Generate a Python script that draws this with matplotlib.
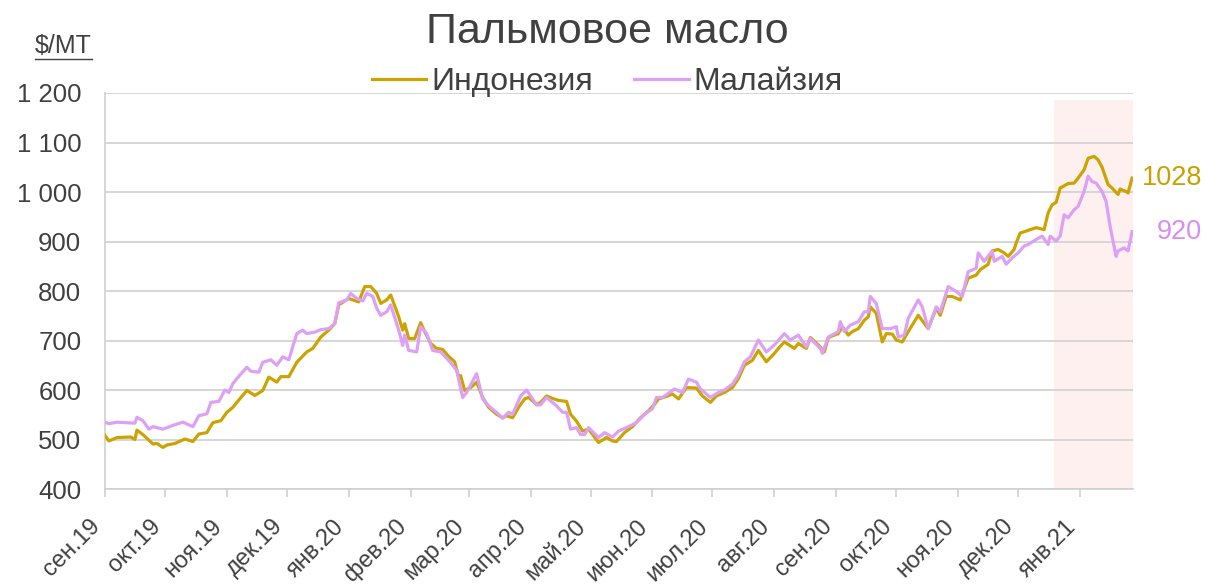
import numpy as np
import pandas as pd
import matplotlib
matplotlib.use("Agg")
from matplotlib import pyplot as plt
from matplotlib.lines import Line2D
from matplotlib.ticker import FuncFormatter

plt.rcParams['font.family'] = ['Liberation Sans', 'DejaVu Sans']

# Data: day offsets from start_date and prices, $/MT
start_date = pd.Timestamp('2019-09-01')
end_day = 514.5

days_ind = [0, 2, 6, 13, 15, 16, 19, 24, 26, 29, 31, 35, 40, 44, 47, 51, 54, 58, 61, 64,
            66, 71, 75, 79, 82, 86, 88, 92, 96, 101, 104, 108, 112, 115, 117, 122, 124, 127, 130, 133,
            136, 138, 141, 143, 147, 149, 150, 152, 155, 158, 160, 163, 166, 169, 172, 175, 177, 178, 180, 183,
            186, 189, 192, 196, 199, 201, 204, 207, 210, 212, 216, 218, 221, 224, 227, 231, 233, 236, 239, 242,
            247, 251, 254, 256, 260, 264, 268, 272, 275, 277, 281, 284, 287, 291, 296, 299, 303, 306, 310, 314,
            317, 320, 324, 327, 331, 335, 337, 340, 345, 347, 351, 353, 357, 360, 362, 367, 369, 372, 374, 377,
            380, 382, 383, 386, 389, 391, 394, 396, 399, 402, 407, 412, 416, 418, 421, 424, 428, 432, 436, 438,
            442, 444, 447, 450, 452, 455, 456, 458, 461, 463, 466, 470, 472, 474, 476, 478, 482, 485, 487, 490,
            492, 495, 497, 499, 502, 504, 507, 508, 511, 512, 514]
indonesia = [508, 497, 504, 505, 500, 519, 510, 491, 492, 484, 489, 492, 501, 496, 511, 514, 534, 538, 555, 565,
             575, 599, 589, 599, 626, 616, 627, 627, 656, 677, 684, 707, 721, 734, 772, 785, 782, 778, 809, 809,
             795, 775, 782, 792, 748, 721, 734, 704, 704, 736, 718, 694, 684, 682, 668, 657, 626, 629, 599, 605,
             616, 585, 565, 551, 544, 548, 544, 565, 582, 585, 571, 575, 588, 583, 579, 577, 551, 537, 517, 521,
             494, 504, 497, 496, 514, 526, 544, 558, 571, 582, 587, 592, 582, 605, 604, 588, 575, 588, 595, 605,
             623, 650, 660, 680, 657, 674, 684, 697, 684, 694, 684, 706, 691, 677, 706, 714, 728, 711, 718, 724,
             741, 748, 768, 755, 697, 714, 713, 701, 697, 718, 751, 724, 765, 751, 789, 789, 782, 826, 832, 843,
             854, 881, 884, 877, 870, 884, 897, 917, 921, 924, 928, 924, 958, 974, 979, 1008, 1017, 1018, 1028, 1045,
             1068, 1072, 1065, 1050, 1015, 1008, 995, 1006, 1001, 998, 1028]

days_mal = [0, 2, 6, 15, 16, 19, 22, 24, 29, 31, 35, 39, 44, 47, 51, 53, 57, 60, 62, 64,
            66, 71, 73, 77, 79, 83, 86, 89, 92, 96, 99, 101, 105, 108, 112, 115, 117, 121, 123, 126,
            129, 131, 134, 136, 138, 141, 143, 147, 149, 150, 152, 156, 158, 161, 164, 168, 172, 176, 179, 181,
            186, 189, 192, 197, 199, 202, 204, 208, 211, 216, 218, 221, 226, 229, 231, 233, 236, 238, 240, 242,
            247, 250, 254, 257, 261, 266, 270, 274, 276, 279, 285, 289, 292, 296, 298, 303, 307, 310, 314, 317,
            320, 323, 327, 331, 335, 340, 343, 347, 351, 353, 358, 359, 362, 367, 368, 370, 373, 377, 380, 382,
            383, 386, 389, 393, 396, 397, 400, 402, 407, 409, 412, 416, 418, 422, 426, 429, 432, 436, 437, 440,
            444, 445, 449, 451, 454, 457, 460, 462, 466, 469, 472, 473, 476, 478, 480, 482, 485, 487, 490, 492,
            494, 496, 499, 501, 503, 506, 507, 510, 512, 514]
malaysia = [535, 532, 535, 533, 545, 538, 521, 526, 521, 524, 530, 535, 526, 548, 552, 575, 577, 600, 595, 613,
            623, 646, 638, 636, 656, 661, 650, 667, 661, 714, 721, 714, 717, 722, 724, 734, 776, 782, 795, 785,
            780, 795, 789, 765, 751, 758, 772, 721, 690, 711, 680, 677, 728, 714, 680, 677, 660, 640, 585, 595,
            633, 582, 568, 551, 543, 555, 551, 588, 600, 570, 570, 585, 568, 555, 555, 521, 524, 510, 510, 524,
            504, 514, 505, 517, 524, 534, 551, 562, 585, 585, 602, 595, 622, 616, 602, 585, 595, 600, 612, 630,
            657, 667, 701, 677, 691, 714, 701, 711, 687, 704, 684, 674, 707, 718, 738, 718, 731, 738, 758, 758,
            789, 775, 724, 724, 728, 707, 711, 745, 782, 768, 724, 768, 758, 809, 799, 789, 839, 846, 877, 860,
            881, 860, 870, 854, 867, 877, 891, 894, 904, 911, 894, 911, 901, 911, 954, 948, 964, 971, 1001, 1032,
            1021, 1018, 1001, 981, 931, 870, 881, 887, 881, 920]

month_labels = ['сен.19', 'окт.19', 'ноя.19', 'дек.19', 'янв.20', 'фев.20', 'мар.20', 'апр.20', 'май.20',
                'июн.20', 'июл.20', 'авг.20', 'сен.20', 'окт.20', 'ноя.20', 'дек.20', 'янв.21']
y_ticks = [400, 500, 600, 700, 800, 900, 1000, 1100, 1200]
highlight = ('2020-12-19', '2021-01-27')

gold = '#CCA300'
lilac = '#DDA0F5'
text_col = '#404040'
grid_col = '#d0d0d0'

x_ind = start_date + pd.to_timedelta(days_ind, unit='D')
x_mal = start_date + pd.to_timedelta(days_mal, unit='D')
month_ticks = pd.date_range(start_date, periods=len(month_labels), freq='MS')

fig = plt.figure(figsize=(12.05, 5.86), dpi=100)
ax = fig.add_axes([0.0871, 0.1655, 0.8532, 0.6758])

ax.axvspan(pd.Timestamp(highlight[0]), pd.Timestamp(highlight[1]) + pd.Timedelta(hours=12),
           ymin=0, ymax=0.983, color='#FFF0F0', lw=0, zorder=0.3)

ax.plot(x_ind, indonesia, color=gold, lw=2.3, label='Индонезия', zorder=3)
ax.plot(x_mal, malaysia, color=lilac, lw=2.3, label='Малайзия', zorder=3)

ax.set_xlim(start_date, start_date + pd.Timedelta(days=end_day))
ax.set_ylim(400, 1200)
ax.set_yticks(y_ticks)
ax.yaxis.set_major_formatter(FuncFormatter(lambda v, p: f"{int(v):,}".replace(',', ' ')))
ax.set_xticks(month_ticks)
ax.set_xticklabels(month_labels, rotation=45, ha='right')

ax.set_axisbelow(True)
ax.grid(axis='y', color=grid_col, lw=1.2)
for s in ['top', 'right']:
    ax.spines[s].set_visible(False)
for s in ['left', 'bottom']:
    ax.spines[s].set_color(grid_col)
    ax.spines[s].set_linewidth(1.2)
ax.tick_params(axis='y', length=0, labelsize=18.5, labelcolor=text_col, pad=17)
ax.tick_params(axis='x', length=6, width=1.2, color=grid_col, labelsize=17, labelcolor=text_col, pad=13)

# end-of-series value labels
ax.text(1.067, indonesia[-1], str(indonesia[-1]), transform=ax.get_yaxis_transform(),
        ha='right', va='center', fontsize=19.5, color='#C8A000')
ax.text(1.067, malaysia[-1], str(malaysia[-1]), transform=ax.get_yaxis_transform(),
        ha='right', va='center', fontsize=19.5, color='#D98CF2')

fig.text(0.504, 0.945, 'Пальмовое масло', ha='center', va='center', fontsize=31, color=text_col)
fig.legend(loc='center', bbox_to_anchor=(0.504, 0.86), ncol=2, frameon=False, fontsize=23,
           handlelength=1.7, handletextpad=0.15, columnspacing=1.3, labelcolor=text_col)

unit = fig.text(35 / 1205, 1 - 53 / 586, '$/MT', ha='left', va='baseline', fontsize=18, color=text_col)
fig.canvas.draw()
bb = unit.get_window_extent().transformed(fig.transFigure.inverted())
fig.add_artist(Line2D([bb.x0, bb.x1], [bb.y0 - 0.001, bb.y0 - 0.001], transform=fig.transFigure,
                      color=text_col, lw=1.0))

fig.savefig('out.png', dpi=100)
